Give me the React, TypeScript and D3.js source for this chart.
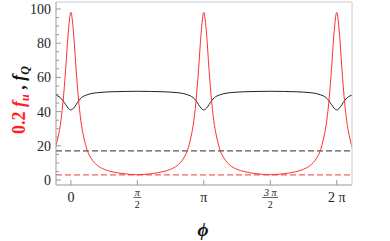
import React from "react";
import * as d3 from "d3";

// phi in units of pi
const phiPi = [
  -0.12, -0.1, -0.08, -0.06, -0.04, -0.02, 0, 0.02, 0.04, 0.06, 0.08, 0.1, 0.12, 0.15, 0.2, 0.25, 0.3, 0.4,
  0.5, 0.6, 0.7, 0.75, 0.8, 0.85, 0.88, 0.9, 0.92, 0.94, 0.96, 0.98, 1.0, 1.02, 1.04, 1.06, 1.08, 1.1, 1.12,
  1.15, 1.2, 1.25, 1.3, 1.4, 1.5, 1.6, 1.7, 1.75, 1.8, 1.85, 1.88, 1.9, 1.92, 1.94, 1.96, 1.98, 2.0, 2.02,
  2.04, 2.06, 2.08, 2.1, 2.12,
];
// 0.2 f_u (red)
const fu = [
  18, 24, 32, 45, 64, 86, 98, 86, 64, 45, 32, 24, 18, 13, 8.5, 6.3, 5, 3.7,
  3.1, 3.7, 5, 6.3, 8.5, 13, 18, 24, 32, 45, 64, 86, 98, 86, 64, 45, 32, 24, 18,
  13, 8.5, 6.3, 5, 3.7, 3.1, 3.7, 5, 6.3, 8.5, 13, 18, 24, 32, 45, 64, 86, 98, 86,
  64, 45, 32, 24, 18,
];
// f_Q (black)
const fq = [
  49.8, 49.2, 48.2, 46.5, 44.2, 42, 41, 42, 44.2, 46.5, 48.2, 49.2, 49.8, 50.5, 51.1, 51.4, 51.6, 51.8,
  51.9, 51.8, 51.6, 51.4, 51.1, 50.5, 49.8, 49.2, 48.2, 46.5, 44.2, 42, 41, 42, 44.2, 46.5, 48.2, 49.2, 49.8,
  50.5, 51.1, 51.4, 51.6, 51.8, 51.9, 51.8, 51.6, 51.4, 51.1, 50.5, 49.8, 49.2, 48.2, 46.5, 44.2, 42, 41, 42,
  44.2, 46.5, 48.2, 49.2, 49.8,
];
const refBlack = 17;
const refRed = 3;
const yTicks = [0, 20, 40, 60, 80, 100];
const yMinor = d3.range(0, 101, 5);
const xTicks = [0, 0.5, 1, 1.5, 2];
const xTickLabels = [
  { num: "0" },
  { num: "π", den: "2" },
  { num: "π" },
  { num: "3 π", den: "2" },
  { num: "2 π" },
];

const serifStyle = { fontFamily: '"Liberation Serif", "DejaVu Serif", serif' };

export default function App() {
  const left = 56, right = 352, top = 2, bottom = 185;
  const x = d3.scaleLinear().domain([-0.112 * Math.PI, 2.115 * Math.PI]).range([left, right]);
  const y = d3.scaleLinear().domain([-2.9, 104.1]).range([bottom, top]);

  const pts = (vals: number[]) => phiPi.map((p, i) => [p * Math.PI, vals[i]] as [number, number]);
  const line = d3
    .line<[number, number]>()
    .x((d) => x(d[0]))
    .y((d) => y(d[1]))
    .curve(d3.curveMonotoneX);

  return (
    <svg width={390} height={241} style={{ position: "absolute", left: 0, top: 0, ...serifStyle }}>
      <defs>
        <clipPath id="plotclip">
          <rect x={left} y={top} width={right - left} height={bottom - top} />
        </clipPath>
      </defs>
      <rect width={390} height={241} fill="#fff" />

      <g clipPath="url(#plotclip)">
        <line x1={left} x2={right} y1={y(refBlack)} y2={y(refBlack)} stroke="#555" strokeWidth={1.2} strokeDasharray="6,3" />
        <line x1={left} x2={right} y1={y(refRed)} y2={y(refRed)} stroke="#e83a3a" strokeWidth={1} strokeDasharray="6,3" />
        <path d={line(pts(fq)) || ""} fill="none" stroke="#222" strokeWidth={1} />
        <path d={line(pts(fu)) || ""} fill="none" stroke="#ff3030" strokeWidth={1} />
      </g>

      {/* frame */}
      <line x1={left} x2={right} y1={top} y2={top} stroke="#ccc" />
      <line x1={right} x2={right} y1={top} y2={bottom} stroke="#ccc" />
      <line x1={left} x2={left} y1={top} y2={bottom} stroke="#999" />
      <line x1={left} x2={right} y1={bottom} y2={bottom} stroke="#999" />

      {yMinor.map((v) => (
        <line key={"m" + v} x1={left} x2={left + (v % 20 === 0 ? 5 : 3)} y1={y(v)} y2={y(v)} stroke="#999" />
      ))}
      {yTicks.map((v) => (
        <text key={v} x={left - 5} y={y(v)} dy="0.35em" textAnchor="end" style={serifStyle} fontSize={14} fill="#222">
          {v}
        </text>
      ))}

      {xTicks.map((t, i) => {
        const px = x(t * Math.PI);
        const lab = xTickLabels[i];
        return (
          <g key={t}>
            <line x1={px} x2={px} y1={bottom} y2={bottom - 5} stroke="#999" />
            {lab.den ? (
              <g style={serifStyle} fill="#222" textAnchor="middle">
                <text x={px} y={196} fontSize={10} fontStyle="italic">{lab.num}</text>
                <line x1={px - (lab.num.length > 1 ? 8 : 4)} x2={px + (lab.num.length > 1 ? 8 : 4)} y1={197.5} y2={197.5} stroke="#222" strokeWidth={0.7} />
                <text x={px} y={207.5} fontSize={10}>{lab.den}</text>
              </g>
            ) : (
              <text x={px} y={201.5} textAnchor="middle" style={serifStyle} fontSize={14} fill="#222">
                {lab.num}
              </text>
            )}
          </g>
        );
      })}

      <text x={203} y={236} textAnchor="middle" style={serifStyle} fontSize={19} fontWeight="bold" fontStyle="italic" fill="#111">
        ϕ
      </text>

      <text
        transform="translate(25,100) rotate(-90)"
        textAnchor="middle"
        style={serifStyle}
        fontSize={18}
        fontWeight="bold"
      >
        <tspan fill="#ff2020">0.2 </tspan>
        <tspan fill="#ff2020" fontStyle="italic">f</tspan>
        <tspan fill="#ff2020" fontStyle="italic" fontSize={12} dy={4}>u</tspan>
        <tspan fill="#111" dy={-4}> , </tspan>
        <tspan fill="#111" fontStyle="italic">f</tspan>
        <tspan fill="#111" fontStyle="italic" fontSize={12} dy={4}>Q</tspan>
      </text>
    </svg>
  );
}
